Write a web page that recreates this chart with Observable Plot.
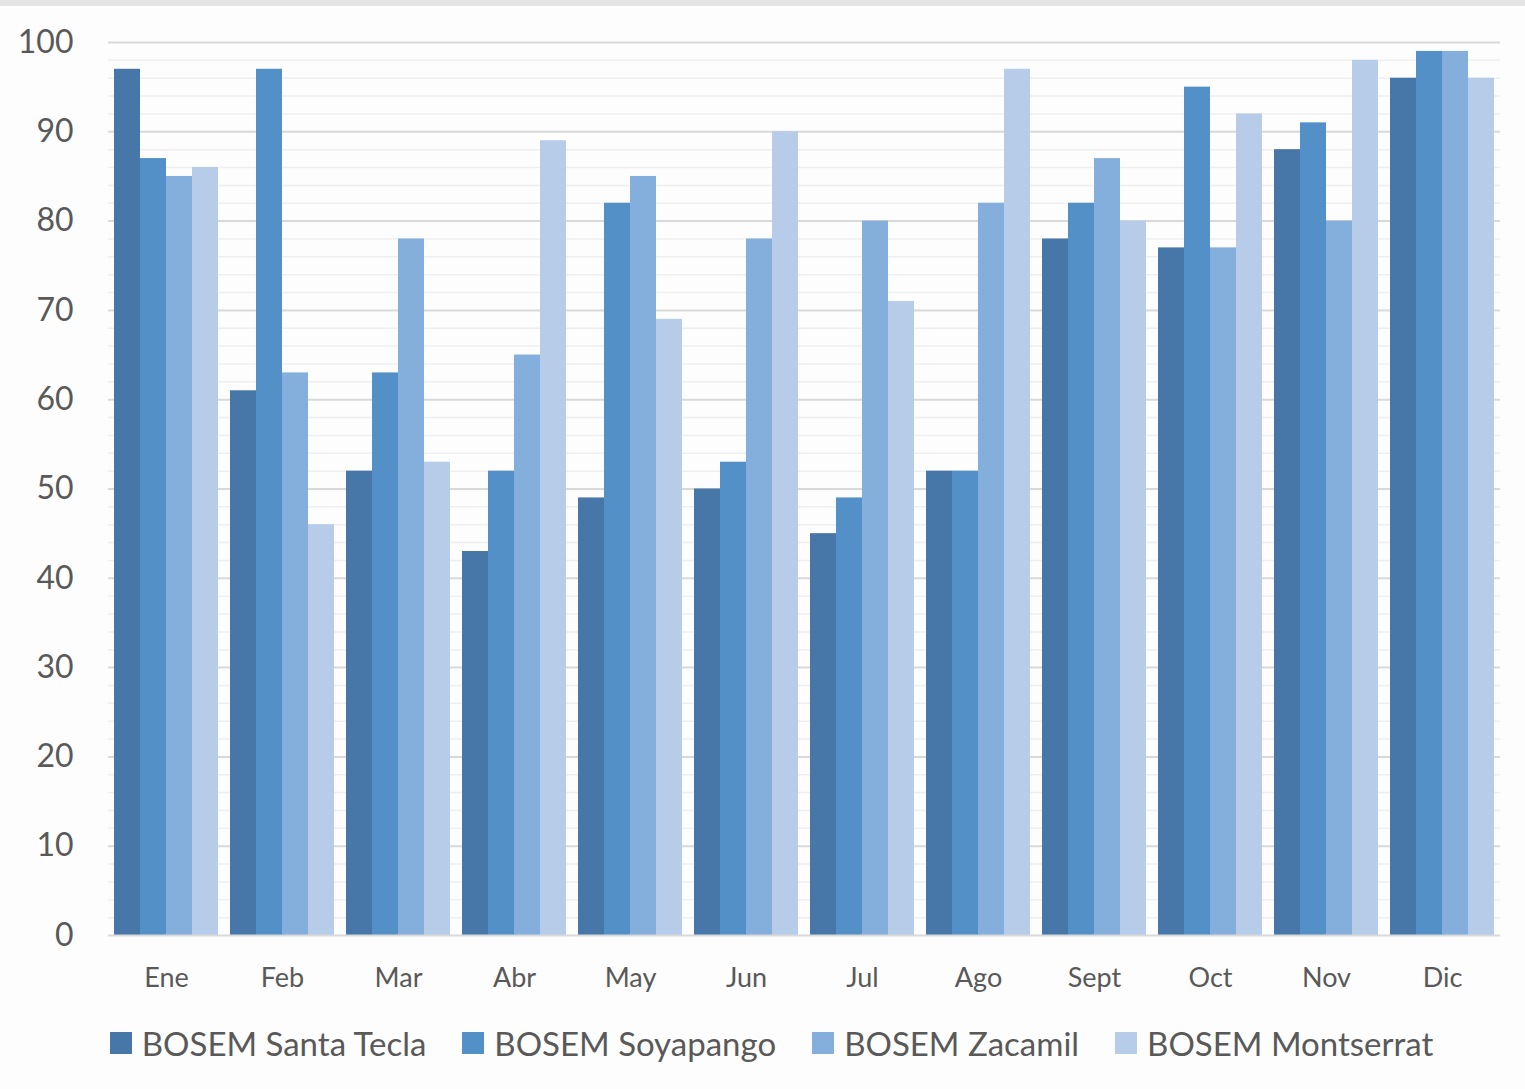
<!DOCTYPE html>
<html>
<head>
<meta charset="utf-8">
<script src="https://cdn.jsdelivr.net/npm/d3@7"></script>
<script src="https://cdn.jsdelivr.net/npm/@observablehq/plot@0.6"></script>
<style>
  html, body { margin: 0; padding: 0; background: #fdfdfd; }
  body { width: 1525px; height: 1089px; border-top: 6px solid #e4e4e4; box-sizing: border-box; font-family: Lato, "Open Sans", sans-serif; }
  #chart svg { display: block; }
  #legend { height: 76px; display: flex; justify-content: center; align-items: center; gap: 36px; color: #595959; font-size: 33px; padding-left: 18px; }
  .item { display: flex; align-items: center; }
  .sw { width: 22px; height: 22px; margin-right: 10px; }
</style>
</head>
<body>
<div id="chart"></div>
<div id="legend"></div>
<script>
const months = ["Ene","Feb","Mar","Abr","May","Jun","Jul","Ago","Sept","Oct","Nov","Dic"];
const series = ["BOSEM Santa Tecla","BOSEM Soyapango","BOSEM Zacamil","BOSEM Montserrat"];
const colors = ["#4677a8","#5390c8","#84aedb","#b7cce8"];
const santaTecla = [97,61,52,43,49,50,45,52,78,77,88,96];
const soyapango  = [87,97,63,52,82,53,49,52,82,95,91,99];
const zacamil    = [85,63,78,65,85,78,80,82,87,77,80,99];
const montserrat = [86,46,53,89,69,90,71,97,80,92,98,96];
const yTicks = [0,10,20,30,40,50,60,70,80,90,100];

const seriesValues = [santaTecla, soyapango, zacamil, montserrat];
const data = [];
months.forEach((m, i) => {
  series.forEach((s, j) => data.push({month: m, series: s, value: seriesValues[j][i]}));
});
const minorTicks = d3.range(2, 100, 2).filter(v => v % 10 !== 0);

const chart = Plot.plot({
  width: 1525,
  height: 999,
  marginTop: 36,
  marginBottom: 70,
  marginLeft: 108,
  marginRight: 25,
  style: {fontFamily: "Lato, 'Open Sans', sans-serif", color: "#595959", background: "transparent"},
  fx: {domain: months, padding: 0, label: null},
  x: {domain: series, paddingInner: 0, paddingOuter: 0.23, axis: null},
  y: {domain: [0, 100], label: null},
  color: {domain: series, range: colors},
  marks: [
    Plot.ruleY(minorTicks, {stroke: "#efefef", strokeWidth: 1.5}),
    Plot.ruleY(yTicks.filter(v => v > 0), {stroke: "#d9d9d9", strokeWidth: 2}),
    Plot.barY(data, {fx: "month", x: "series", y: "value", fill: "series", inset: 0}),
    Plot.ruleY([0], {stroke: "#d9d9d9", strokeWidth: 2}),
    Plot.axisY({ticks: yTicks, tickSize: 0, tickPadding: 35, fontSize: 32, label: null, fill: "#595959"}),
    Plot.axisFx({anchor: "bottom", tickSize: 0, tickPadding: 32, fontSize: 27, label: null, fill: "#595959"})
  ]
});
document.getElementById("chart").appendChild(chart);

const legend = document.getElementById("legend");
series.forEach((s, i) => {
  const it = document.createElement("div");
  it.className = "item";
  const sw = document.createElement("span");
  sw.className = "sw";
  sw.style.background = colors[i];
  const t = document.createElement("span");
  t.textContent = s;
  it.appendChild(sw); it.appendChild(t);
  legend.appendChild(it);
});
</script>
</body>
</html>
